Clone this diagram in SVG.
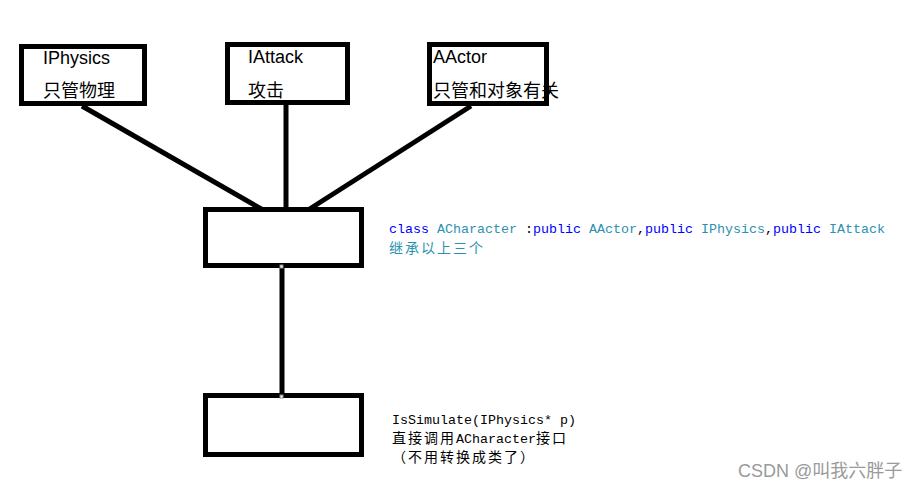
<svg xmlns="http://www.w3.org/2000/svg" width="923" height="493" viewBox="0 0 923 493">
<style>
.box{fill:none;stroke:#000;stroke-width:5}
.line{stroke:#000;stroke-width:5;fill:none}
.lbl{font-family:"Liberation Sans","Noto Sans CJK SC",sans-serif;font-size:18px;fill:#000}
.code{font-family:"Liberation Mono","Noto Sans CJK SC",monospace;font-size:13.33px;fill:#000}
.cjk{font-family:"Noto Sans CJK SC",sans-serif;font-size:14px;letter-spacing:2px}
.kw{fill:#0000ff}
.ty{fill:#2b91af}
.pt{fill:#fff;stroke:#888;stroke-width:1}
.wm{font-family:"Liberation Sans","Noto Sans CJK SC",sans-serif;font-size:18px;fill:#9a9a9a}
</style>
<rect width="923" height="493" fill="#fff"/>
<g id="connectors">
<line class="line" x1="82" y1="106" x2="263" y2="210"/>
<line class="line" x1="286" y1="100" x2="286" y2="210"/>
<line class="line" x1="471" y1="106" x2="308" y2="210"/>
<line class="line" x1="282" y1="268" x2="282" y2="395"/>
</g>
<g id="iphysics">
<rect class="box" x="21.5" y="46.5" width="123" height="57"/>
<text class="lbl" x="43" y="64">IPhysics</text>
<text class="lbl" x="43" y="97">只管物理</text>
</g>
<g id="iattack">
<rect class="box" x="227.5" y="44.5" width="120" height="58"/>
<text class="lbl" x="248" y="63">IAttack</text>
<text class="lbl" x="248" y="97">攻击</text>
</g>
<g id="aactor">
<rect class="box" x="429.5" y="44.5" width="117" height="59"/>
<text class="lbl" x="433" y="63">AActor</text>
<text class="lbl" x="433" y="97">只管和对象有关</text>
</g>
<g id="acharacter">
<rect class="box" x="205.5" y="209.5" width="156" height="56"/>
<rect class="pt" x="280" y="265" width="3" height="3"/>
<text class="code" x="389" y="233"><tspan class="kw">class</tspan> <tspan class="ty">ACharacter</tspan> :<tspan class="kw">public</tspan> <tspan class="ty">AActor</tspan>,<tspan class="kw">public</tspan> <tspan class="ty">IPhysics</tspan>,<tspan class="kw">public</tspan> <tspan class="ty">IAttack</tspan></text>
<text class="code cjk ty" x="389" y="253">继承以上三个</text>
</g>
<g id="issimulate">
<rect class="box" x="205.5" y="395.5" width="156" height="59"/>
<rect class="pt" x="280" y="395" width="3" height="3"/>
<text class="code" x="392" y="424">IsSimulate(IPhysics* p)</text>
<text class="code" x="392" y="443"><tspan class="cjk">直接调用</tspan>ACharacter<tspan class="cjk">接口</tspan></text>
<text class="code cjk" x="392" y="462">（不用转换成类了）</text>
</g>
<text class="wm" x="738" y="477">CSDN @叫我六胖子</text>
</svg>
